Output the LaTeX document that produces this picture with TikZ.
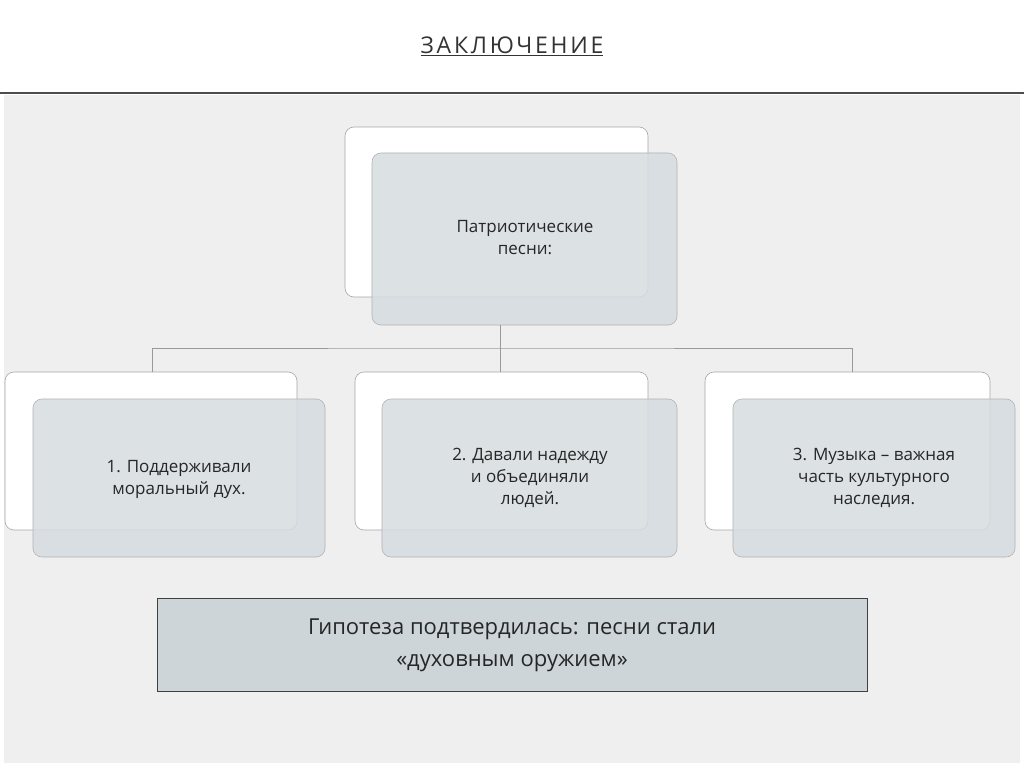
\documentclass[tikz,border=0pt]{standalone}
\usepackage{fontspec}
\setmainfont{Open Sans}
\definecolor{bgpanel}{RGB}{239,239,239}
\definecolor{frontfill}{RGB}{214,220,224}
\definecolor{hypfill}{RGB}{205,213,216}
\begin{document}
\begin{tikzpicture}[x=1pt,y=-1pt,
  back/.style={draw=gray!70,fill=white,rounded corners=9pt,line width=0.6pt},
  front/.style={draw=gray!60,fill=frontfill,fill opacity=0.85,rounded corners=9pt,line width=0.6pt},
  lbl/.style={align=center,font=\fontsize{17}{22}\selectfont,text=black!85},
  conn/.style={draw=gray!80,line width=0.8pt}]
\useasboundingbox (0,0) rectangle (1024,767);
\fill[white] (0,0) rectangle (1024,767);
\fill[bgpanel] (4,95) rectangle (1020,763);
\draw[line width=2.5pt,black!70] (0,93) -- (1024,93);
\node[font=\fontsize{23}{28}\selectfont,text=black!80] (title) at (512,46) {\addfontfeature{LetterSpace=12}\underline{ЗАКЛЮЧЕНИЕ}};
% top
\draw[back] (345,127) rectangle (648,297);
\draw[front] (372,153) rectangle (677,325);
\node[lbl] (top) at (525,238) {Патриотические\\песни:};
\coordinate (tb) at (500,325);
% bottom boxes
\draw[back] (5,372) rectangle (297,530);
\draw[front] (33,399) rectangle (325,557);
\node[lbl] (b1) at (179,479) {1. Поддерживали\\моральный дух.};
\draw[back] (355,372) rectangle (648,530);
\draw[front] (382,399) rectangle (677,557);
\node[lbl] (b2) at (530,478) {2. Давали надежду\\и объединяли\\людей.};
\draw[back] (705,372) rectangle (990,530);
\draw[front] (733,399) rectangle (1015,557);
\node[lbl] (b3) at (874,478) {3. Музыка – важная\\часть культурного\\наследия.};
\coordinate (c1) at (152,372);
\coordinate (c2) at (500,372);
\coordinate (c3) at (852,372);
\draw[conn] (tb) -- (500,348);
\draw[conn] (c1) |- (500,348) -| (c3);
\draw[conn] (500,348) -- (c2);
% hypothesis
\draw[fill=hypfill,draw=black!75,line width=1pt] (157,598) rectangle (867,691);
\node[lbl,font=\fontsize{22}{32}\selectfont] (hyp) at (512,645) {Гипотеза подтвердилась: песни стали\\«духовным оружием»};
\end{tikzpicture}
\end{document}
